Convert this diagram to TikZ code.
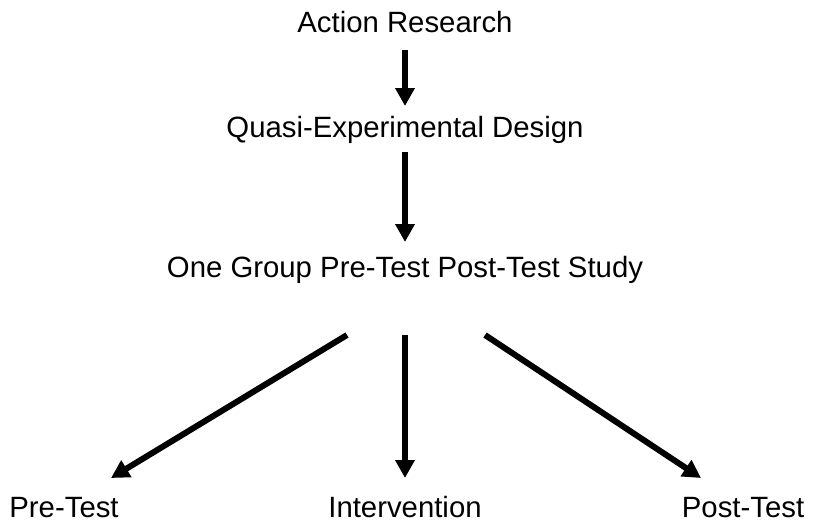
\documentclass[tikz,border=0pt]{standalone}
\usepackage{fontspec}
\setmainfont{Liberation Sans}
\usetikzlibrary{arrows.meta}
\begin{document}
\begin{tikzpicture}[x=0.75pt,y=-0.75pt,
  lbl/.style={font=\fontsize{22}{26}\selectfont, inner sep=0pt, anchor=base},
  arr/.style={line width=4.5pt, -{Triangle[length=13.5pt,width=14pt]}}]
\useasboundingbox (0,0) rectangle (825,526);
\node[lbl] (ar) at (405,32.5) {Action Research};
\node[lbl] (qe) at (405,137.5) {Quasi-Experimental Design};
\node[lbl] (og) at (405,277.5) {One Group Pre-Test Post-Test Study};
\node[lbl] (pre) at (64,517.5) {Pre-Test};
\node[lbl] (int) at (405,517.5) {Intervention};
\node[lbl] (post) at (743,517.5) {Post-Test};
\coordinate (a1s) at (405,50);  \coordinate (a1e) at (405,106);
\coordinate (a2s) at (405,152); \coordinate (a2e) at (405,242);
\coordinate (l1) at (347,335);  \coordinate (l2) at (111,478);
\coordinate (c1) at (405,335);  \coordinate (c2) at (405,478);
\coordinate (r1) at (485,335);  \coordinate (r2) at (701,478);
\draw[arr] (a1s) -- (a1e);
\draw[arr] (a2s) -- (a2e);
\draw[arr] (l1) -- (l2);
\draw[arr] (c1) -- (c2);
\draw[arr] (r1) -- (r2);
\end{tikzpicture}
\end{document}
